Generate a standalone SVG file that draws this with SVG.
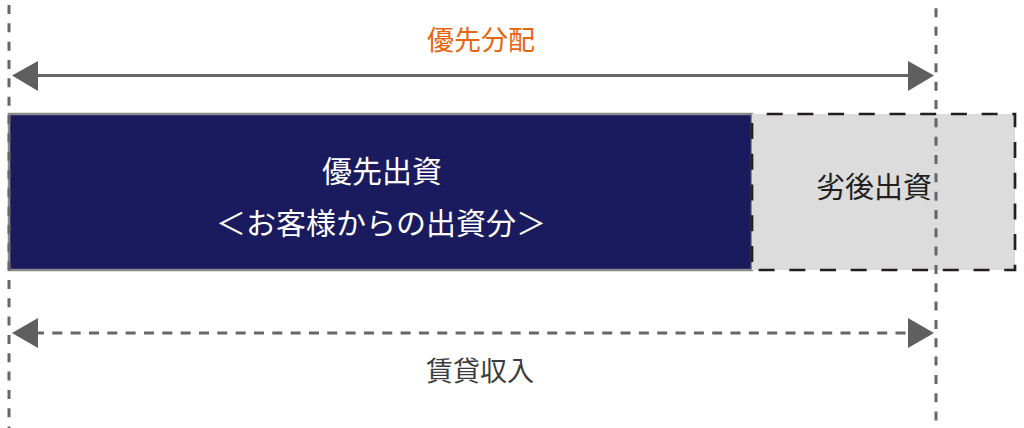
<svg xmlns="http://www.w3.org/2000/svg" width="1024" height="428" viewBox="0 0 1024 428">
<style>
.guide{stroke:#666;stroke-width:3;stroke-dasharray:9 9.33;fill:none}
.arr{stroke:#666;stroke-width:3;fill:none}
.ah{fill:#5f5f5f}
text{font-family:"Noto Sans CJK JP","Noto Sans",sans-serif;text-anchor:middle}
</style>
<rect width="1024" height="428" fill="#fff"/>
<g id="senior">
<rect x="9" y="114" width="743" height="156" fill="#1a1b5e" stroke="#8a8a8a" stroke-width="2.5"/>
<text x="382" y="182" font-size="30" fill="#fff">優先出資</text>
<text x="381" y="234" font-size="30" fill="#fff">＜お客様からの出資分＞</text>
</g>
<g id="junior">
<rect x="752" y="114" width="263" height="156" fill="#dcdcdc" stroke="#231f20" stroke-width="2.7" stroke-dasharray="16 14.7" stroke-dashoffset="16"/>
<text x="874" y="198" font-size="29" fill="#231f20">劣後出資</text>
</g>
<g id="connectors">
<line class="guide" x1="9" y1="5" x2="9" y2="428"/>
<line class="guide" x1="936" y1="-10" x2="936" y2="428"/>
<line class="arr" x1="36" y1="75.5" x2="910" y2="75.5"/>
<polygon class="ah" points="12,75.5 38,61 38,91"/>
<polygon class="ah" points="934,75.5 908,61 908,91"/>
<line class="arr" x1="34" y1="333" x2="910" y2="333" stroke-dasharray="10 8.33"/>
<polygon class="ah" points="12,333 38,318 38,348"/>
<polygon class="ah" points="934,333 908,318 908,348"/>
</g>
<g id="label-top">
<text x="481" y="50" font-size="27" fill="#e8650e">優先分配</text>
</g>
<g id="label-bottom">
<text x="480" y="381" font-size="27" fill="#3c3c3c">賃貸収入</text>
</g>
</svg>
